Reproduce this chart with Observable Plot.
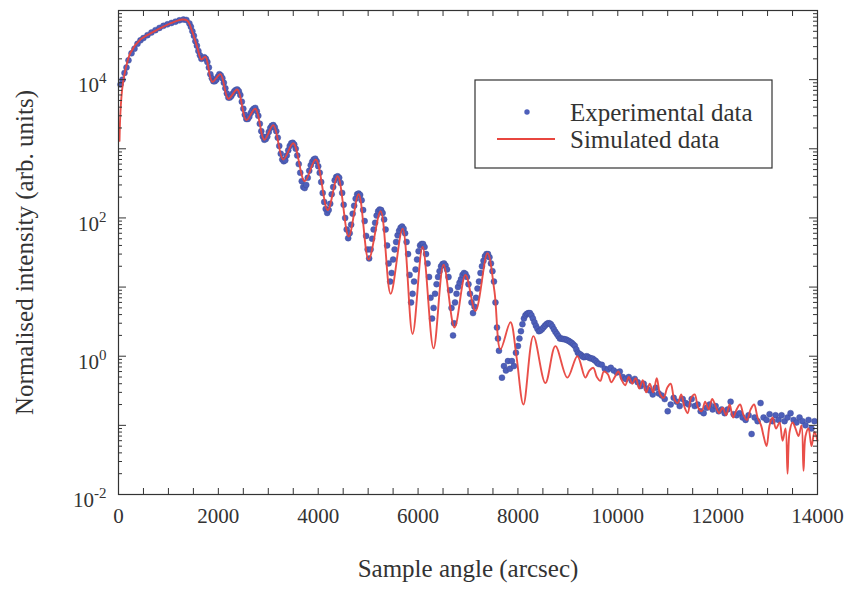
<!DOCTYPE html>
<html><head><meta charset="utf-8">
<script src="https://cdn.jsdelivr.net/npm/d3@7"></script>
<script src="https://cdn.jsdelivr.net/npm/@observablehq/plot@0.6"></script>
<style>
body{margin:0;background:#fff;}
#chart{width:854px;height:592px;}
</style></head><body><div id="chart"></div>
<script>
// Experimental data (sample angle in arcsec, normalised intensity)
const expAngle = [40,80,120,160,200,260,320,380,440,500,580,660,740,820,900,980,1060,1140,1220,1300,1360,
1420,1450,1480,1510,1540,1570,1600,1630,1660,1690,1720,1750,1780,1810,1840,1870,1900,1930,1960,1990,
2020,2050,2080,2110,2140,2170,2200,2230,2260,2290,2320,2350,2380,2410,2440,2470,2500,2530,2560,2590,
2620,2650,2680,2710,2740,2770,2800,2830,2860,2890,2920,2950,2980,3010,3040,3070,3100,3130,3160,3190,
3220,3250,3280,3310,3340,3370,3400,3430,3460,3490,3520,3550,3580,3610,3640,3670,3700,3730,3760,3790,
3820,3850,3880,3910,3940,3970,4000,4030,4060,4090,4120,4150,4180,4210,4240,4270,4300,4330,4360,4390,
4420,4450,4480,4510,4540,4570,4600,4630,4660,4690,4720,4750,4780,4810,4840,4870,4900,4930,4960,4990,
5020,5050,5080,5110,5140,5170,5200,5230,5260,5290,5320,5350,5380,5410,5440,5470,5500,5530,5560,5590,
5620,5650,5680,5710,5740,5770,5800,5830,5860,5890,5920,5950,5980,6010,6040,6070,6100,6130,6160,6190,
6220,6250,6280,6310,6340,6370,6400,6430,6460,6490,6520,6550,6580,6610,6640,6670,6700,6720,6740,6770,
6800,6830,6860,6890,6920,6950,6980,7010,7040,7070,7100,7130,7160,7190,7220,7250,7280,7310,7340,7370,
7400,7430,7460,7490,7520,7550,7580,7600,7620,7680,7720,7760,7800,7840,7880,7920,7960,8000,8030,8060,
8090,8120,8150,8180,8210,8240,8270,8300,8330,8360,8390,8420,8450,8480,8510,8540,8570,8600,8630,8660,
8690,8720,8750,8780,8810,8840,8870,8900,8930,8960,8990,9020,9050,9080,9110,9140,9170,9200,9230,9260,
9290,9320,9350,9380,9410,9440,9470,9500,9530,9560,9590,9620,
9680,9740,9800,9860,9920,9980,10040,10100,10160,10220,10280,10340,10400,10460,10520,10580,10640,10700,10760,10820,10880,10940,11000,11060,11120,11180,11240,11300,11360,11420,11480,11540,11600,11660,11720,11780,11840,11900,11960,12020,12080,12140,12200,12260,12320,12380,12440,12500,12560,12620,12680,12740,12800,12860,12920,12980,13040,13100,13160,13220,13280,13340,13400,13460,13520,13580,13640,13700,13760,13820,13880,13940];
const expIntensity = [8500,10000,12500,15000,19000,24000,28000,33000,37000,40000,44000,48000,52000,56000,60000,63000,66000,69000,72000,74000,73000,
65000,58000,50000,43000,36000,31000,26000,22500,20000,20500,21000,20000,18000,15000,12000,10500,9500,9500,10000,11000,
12000,11500,10500,9000,7500,6300,5500,5500,5800,6300,6800,7100,7200,6800,6000,4800,3800,3100,2700,2700,
2900,3300,3600,3800,3900,3500,3000,2300,1800,1500,1350,1380,1500,1750,2000,2150,2200,2050,1800,1450,
1100,850,700,660,680,800,950,1100,1200,1220,1150,1000,800,600,450,340,280,270,300,380,
480,580,650,700,720,660,560,450,330,230,170,135,118,130,160,220,280,350,390,400,
380,320,230,155,100,68,51,60,80,115,150,190,220,225,215,180,130,90,55,35,
26,35,50,68,85,108,125,132,130,118,95,68,40,22,12,16,25,35,45,56,
65,72,75,70,60,45,30,15,6,8,12,18,25,33,40,42,42,38,30,22,
14,7,3.5,5,8,11,14,17,20,21.5,22,20.5,18,14,9,5,2.0,3,6,8,
10,11.5,13,15,16,15.5,14,11,8,6,4.2,5.2,7,9.5,12,16,20,24,28,30,
30,27,22,17,12,6,2.6,1.8,1.2,0.49,0.72,0.62,0.85,0.66,0.85,0.72,1.12,1.4,1.8,2.3,
2.9,3.5,3.9,4.1,4.2,4.2,3.9,3.5,3.1,2.75,2.5,2.3,2.35,2.45,2.6,2.75,2.9,3.0,3.0,2.9,
2.7,2.45,2.25,2.1,1.95,1.8,1.8,1.78,1.76,1.75,1.7,1.66,1.6,1.55,1.48,1.41,1.25,1.12,1.08,1.05,
1.0,0.97,0.98,1.0,0.97,0.94,0.93,0.92,0.88,0.85,0.8,0.77,
0.75,0.66,0.64,0.68,0.62,0.58,0.6,0.5,0.47,0.5,0.44,0.47,0.42,0.37,0.40,0.34,0.32,0.28,0.35,0.29,0.27,0.24,0.16,0.20,0.25,0.22,0.19,0.24,0.21,0.2,0.24,0.19,0.20,0.16,0.15,0.18,0.2,0.17,0.19,0.16,0.17,0.15,0.17,0.22,0.145,0.14,0.15,0.13,0.12,0.14,0.075,0.13,0.115,0.21,0.13,0.12,0.145,0.115,0.14,0.12,0.14,0.115,0.13,0.15,0.12,0.11,0.13,0.115,0.10,0.12,0.09,0.115];

// Simulated data
const simAngle = [20,40,80,140,240,440,700,1040,1280,1380,1480,1580,1660,1740,1880,2040,2200,2380,2560,2740,2920,3100,3300,3500,3730,3950,4190,4390,4610,4810,5010,5250,5450,5690,5890,6090,6310,6510,6730,6950,7150,7390,7530,7650,7850,7970,8110,8310,8550,8750,8990,9190,9350,9430,9510,9580,9650,9720,9800,9870,9940,10010,10080,10150,10220,10290,10360,10430,10500,10570,10640,10710,10780,10850,10920,10990,11060,11130,11200,11270,11340,11400,11470,11540,11610,11680,11750,11820,11890,11960,12030,12100,12170,12240,12310,12380,12450,12520,12590,12660,12730,12800,12870,12920,12980,13040,13100,13170,13240,13300,13360,13400,13440,13500,13560,13620,13680,13720,13760,13820,13880,13940,14000];
const simIntensity = [1300,3500,8000,14000,24500,38000,49000,65000,74000,71000,49000,29000,19500,21500,9300,12000,5300,7200,2600,3800,1350,2200,700,1200,340,700,130,400,54,220,25,125,8,70,2.1,38,1.3,21,2.6,15,4.5,31,8.7,1.26,3.1,1.0,0.2,1.95,0.41,1.4,0.49,1.0,0.49,0.62,0.68,0.50,0.44,0.60,0.55,0.42,0.50,0.60,0.45,0.38,0.50,0.40,0.48,0.34,0.45,0.30,0.40,0.30,0.48,0.28,0.25,0.35,0.40,0.24,0.21,0.28,0.18,0.15,0.25,0.28,0.18,0.16,0.22,0.17,0.24,0.19,0.15,0.18,0.14,0.20,0.13,0.17,0.20,0.14,0.12,0.17,0.20,0.13,0.10,0.07,0.05,0.10,0.13,0.09,0.11,0.06,0.09,0.02,0.08,0.11,0.09,0.07,0.10,0.022,0.07,0.09,0.05,0.08,0.06];

// Axis ticks and labels
const xTickValues = [0,2000,4000,6000,8000,10000,12000,14000];
const yTickValues = [0.01,1,100,10000];
const xLabel = "Sample angle (arcsec)";
const yLabel = "Normalised intensity (arb. units)";
const seriesNames = ["Experimental data","Simulated data"];

const blue = "#4d5fba", red = "#e8463f", ink = "#333";

const expRows = expAngle.map((a,i)=>({angle:a, intensity:expIntensity[i]}));
const simRows = simAngle.map((a,i)=>({angle:a, intensity:simIntensity[i]}));

const xMinor = d3.range(0, 14001, 500);
const yDecades = [0.01,0.1,1,10,100,1000,10000,100000];
const yMinor = [];
for (const d of yDecades.slice(0,-1)) for (let k=2;k<10;k++) yMinor.push(d*k);

const W = 854, H = 592, mL = 118, mR = 37, mT = 10, mB = 98;
const pw = W-mL-mR, ph = H-mT-mB;
const fontFam = '"Liberation Serif","Times New Roman",serif';

const plot = Plot.plot({
  width: W, height: H,
  marginLeft: mL, marginRight: mR, marginTop: mT, marginBottom: mB,
  style: {fontFamily: fontFam, color: ink, background: "white"},
  x: {domain: [0,14000]},
  y: {type: "log", domain: [0.01, 1e5]},
  marks: [
    Plot.dot(expRows, {x:"angle", y:"intensity", r:3, fill: blue, stroke: "#3d4a94", strokeWidth: 0.4}),
    Plot.line(simRows, {x:"angle", y:"intensity", stroke: red, strokeWidth: 1.9, strokeOpacity: 0.95, curve: "catmull-rom"}),
    Plot.frame({stroke: ink, strokeWidth: 1.2}),
    Plot.tickX(xMinor, {x: d=>d, insetTop: ph-6, stroke: ink}),
    Plot.tickX(xMinor, {x: d=>d, insetBottom: ph-6, stroke: ink}),
    Plot.tickY(yDecades, {y: d=>d, insetRight: pw-8, stroke: ink}),
    Plot.tickY(yDecades, {y: d=>d, insetLeft: pw-8, stroke: ink}),
    Plot.tickY(yMinor, {y: d=>d, insetRight: pw-4, stroke: ink}),
    Plot.tickY(yMinor, {y: d=>d, insetLeft: pw-4, stroke: ink}),
    Plot.axisX({ticks: xTickValues, tickSize: 0, tickPadding: 14, fontSize: 21, tickFormat: d => String(d), label: null}),
    Plot.axisY({ticks: yTickValues, tickSize: 0, tickPadding: 12, fontSize: 21, dy: 6, tickFormat: d => "10^" + Math.round(Math.log10(d)), label: null}),
    Plot.text([xLabel], {frameAnchor: "bottom", dy: 82, fontSize: 25, fill: ink}),
    Plot.text([yLabel], {frameAnchor: "left", dx: -94, rotate: -90, textAnchor: "middle", fontSize: 25, fill: ink})
  ]
});

const svg = d3.select(plot);
svg.selectAll('g[aria-label="y-axis tick label"] text').each(function(){
  const t = this.textContent;
  const parts = t.split("^");
  const s = d3.select(this);
  s.text(null);
  s.append("tspan").text(parts[0]);
  s.append("tspan").attr("dy", "-9").attr("font-size", 15).text(parts[1]);
});

// Legend
const lg = svg.append("g").attr("font-family", fontFam).attr("font-size", 25).attr("fill", ink).attr("text-anchor", "start");
lg.append("rect").attr("x", 475).attr("y", 80).attr("width", 297).attr("height", 88).attr("fill", "white").attr("stroke", ink).attr("stroke-width", 1.2);
lg.append("circle").attr("cx", 527).attr("cy", 112).attr("r", 2.7).attr("fill", blue);
lg.append("line").attr("x1", 497).attr("x2", 555).attr("y1", 139).attr("y2", 139).attr("stroke", red).attr("stroke-width", 2);
lg.append("text").attr("x", 570).attr("y", 112).attr("dy", "0.35em").text(seriesNames[0]);
lg.append("text").attr("x", 570).attr("y", 139).attr("dy", "0.35em").text(seriesNames[1]);

document.getElementById("chart").appendChild(plot);
</script>
</body></html>
